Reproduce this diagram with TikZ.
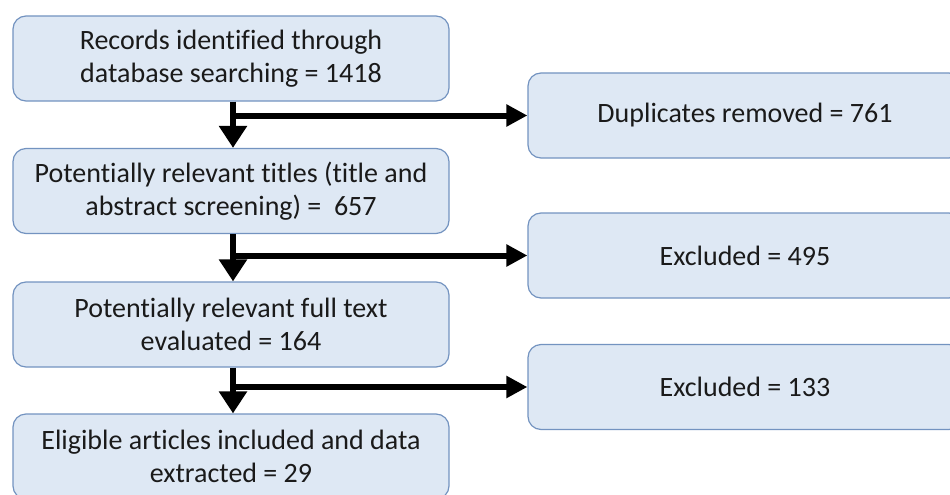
\documentclass[tikz,border=0pt]{standalone}
\usepackage{fontspec}
\setmainfont{Carlito}[Ligatures=CommonOff]
\usetikzlibrary{arrows.meta}
\definecolor{boxfill}{HTML}{DEE8F4}
\definecolor{boxline}{HTML}{7393C0}
\definecolor{ink}{HTML}{1A1A1A}
\begin{document}
\begin{tikzpicture}[x=1pt,y=-1pt,
  flowbox/.style={draw=boxline, line width=1.2pt, fill=boxfill, rounded corners=13pt,
    minimum width=436pt, minimum height=85pt, align=center, text=ink,
    font=\fontsize{28}{33}\selectfont, inner sep=0pt},
  sidebox/.style={flowbox, minimum width=434pt},
  down/.style={line width=6pt, -{Triangle[length=22pt,width=27pt]}},
  side/.style={line width=6pt, -{Triangle[length=21pt,width=21pt]}}]
\useasboundingbox (0,0) rectangle (950,495);
\clip (0,0) rectangle (950,495);

% main flow
\node[flowbox] (b1) at (231,58.5) {Records identified through\\database searching = 1418};
\node[flowbox] (b2) at (231,191) {Potentially relevant titles (title and\\abstract screening) =\ \ 657};
\node[flowbox] (b3) at (231,324.5) {Potentially relevant full text\\evaluated = 164};
\node[flowbox] (b4) at (231,456.5) {Eligible articles included and data\\extracted = 29};

% removed records
\node[sidebox] (r1) at (745,115.5) {Duplicates removed = 761};
\node[sidebox] (r2) at (745,255.5) {Excluded = 495};
\node[sidebox] (r3) at (745,387) {Excluded = 133};

% connectors
\draw[down] ([xshift=2pt]b1.south) -- ([xshift=2pt]b2.north);
\draw[down] ([xshift=2pt]b2.south) -- ([xshift=2pt]b3.north);
\draw[down] ([xshift=2pt]b3.south) -- ([xshift=2pt]b4.north);

\coordinate (j1) at ([xshift=2pt]b1.south |- r1.west);
\coordinate (j2) at ([xshift=2pt]b2.south |- r2.west);
\coordinate (j3) at ([xshift=2pt]b3.south |- r3.west);
\draw[side] ([xshift=-3pt]j1) -- (r1.west);
\draw[side] ([xshift=-3pt]j2) -- (r2.west);
\draw[side] ([xshift=-3pt]j3) -- (r3.west);
\end{tikzpicture}
\end{document}
